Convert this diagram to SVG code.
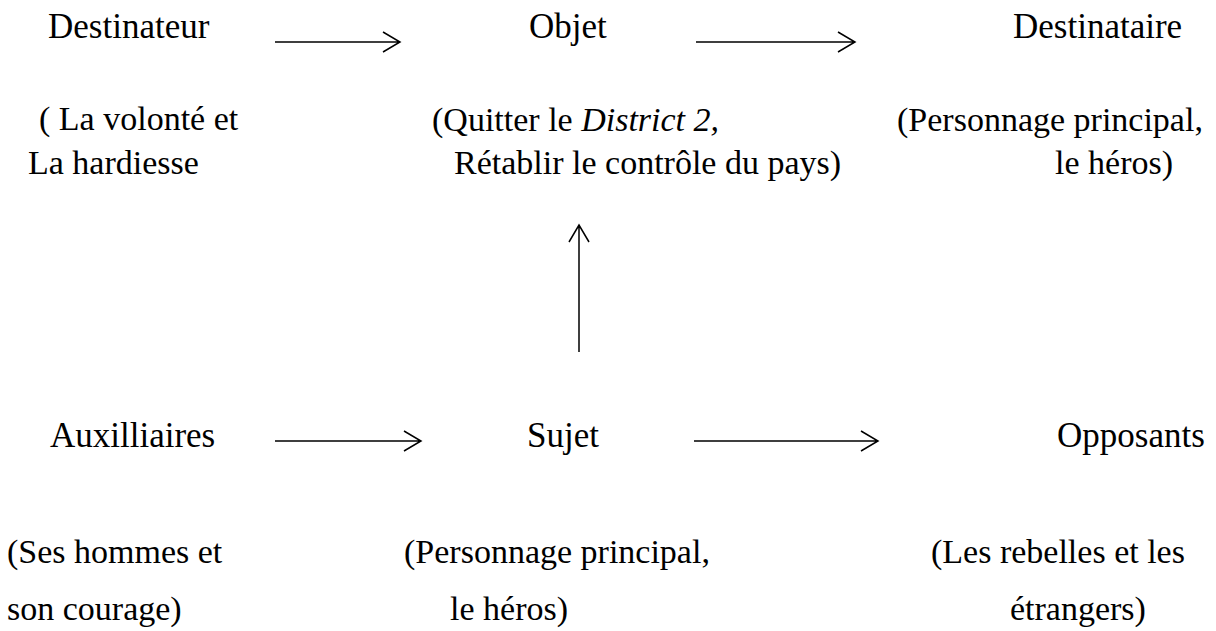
<svg xmlns="http://www.w3.org/2000/svg" width="1216" height="631" viewBox="0 0 1216 631">
<style>
.t{font-size:34px;fill:#000}
.h{font-size:35px}
.c{stroke:#000;stroke-width:1.5;fill:none}
</style>
<rect width="1216" height="631" fill="#fff"/>
<g id="connectors">
<path class="c" d="M275 42H400M383 32L400 42L383 52"/>
<path class="c" d="M696 42H855M838 32L855 42L838 52"/>
<path class="c" d="M579 352V225M569 242L579 225L589 242"/>
<path class="c" d="M275 441H421M404 431L421 441L404 451"/>
<path class="c" d="M694 441H878M861 431L878 441L861 451"/>
</g>
<g class="t" font-family="Liberation Serif, DejaVu Serif, serif">
<g id="destinateur"><text class="h" x="48" y="38">Destinateur</text><text x="39" y="130">( La volonté et</text><text x="28" y="174">La hardiesse</text></g>
<g id="objet"><text class="h" x="529" y="38">Objet</text><text x="432" y="131">(Quitter le <tspan font-style="italic">District 2,</tspan></text><text x="454" y="174">Rétablir le contrôle du pays)</text></g>
<g id="destinataire"><text class="h" x="1013" y="38">Destinataire</text><text x="897" y="131">(Personnage principal,</text><text x="1055" y="174">le héros)</text></g>
<g id="auxilliaires"><text class="h" x="50" y="447">Auxilliaires</text><text x="7" y="563">(Ses hommes et</text><text x="7" y="620">son courage)</text></g>
<g id="sujet"><text class="h" x="527" y="447">Sujet</text><text x="404" y="563">(Personnage principal,</text><text x="450" y="620">le héros)</text></g>
<g id="opposants"><text class="h" x="1057" y="447">Opposants</text><text x="931" y="563">(Les rebelles et les</text><text x="1010" y="620">étrangers)</text></g>
</g>
</svg>
